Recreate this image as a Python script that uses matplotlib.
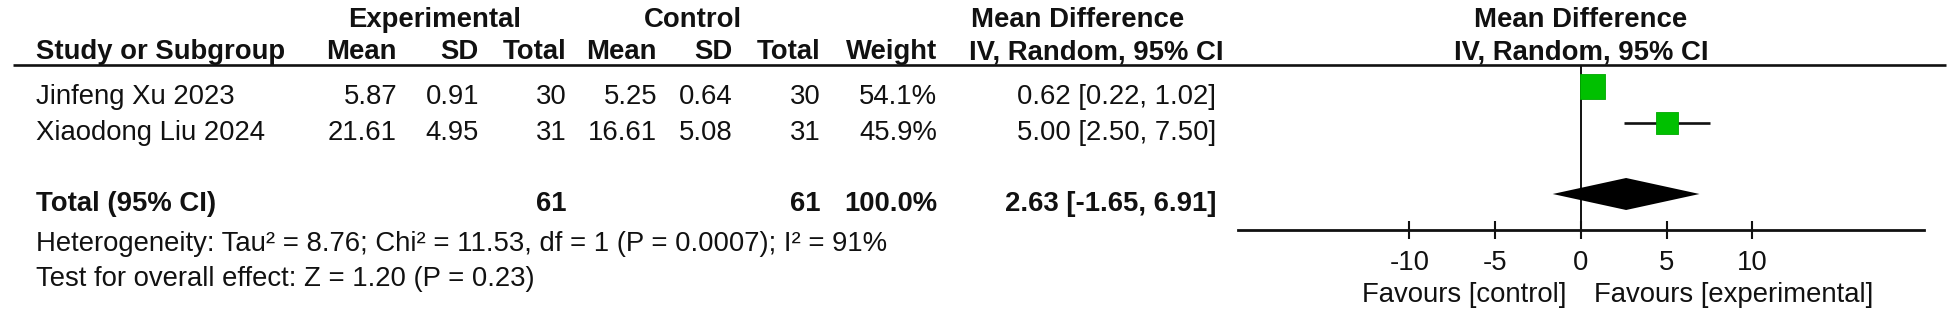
import matplotlib
matplotlib.use("Agg")
import matplotlib.pyplot as plt

# ---------------- data ----------------
studies = ["Jinfeng Xu 2023", "Xiaodong Liu 2024"]
exp_mean = [5.87, 21.61]
exp_sd = [0.91, 4.95]
exp_n = [30, 31]
ctl_mean = [5.25, 16.61]
ctl_sd = [0.64, 5.08]
ctl_n = [30, 31]
weights = [54.1, 45.9]
md = [0.62, 5.00]
ci_lo = [0.22, 2.50]
ci_hi = [1.02, 7.50]

total_label = "Total (95% CI)"
total_exp_n = 61
total_ctl_n = 61
total_weight = 100.0
pooled_md = 2.63
pooled_lo = -1.65
pooled_hi = 6.91

heterogeneity = "Heterogeneity: Tau\u00b2 = 8.76; Chi\u00b2 = 11.53, df = 1 (P = 0.0007); I\u00b2 = 91%"
overall = "Test for overall effect: Z = 1.20 (P = 0.23)"

xticks = [-10, -5, 0, 5, 10]
xlim = (-20, 20)
favours_left = "Favours [control]"
favours_right = "Favours [experimental]"

# ---------------- figure ----------------
W, H, DPI = 1949, 319, 100
plt.rcParams['font.family'] = ['Liberation Sans', 'DejaVu Sans']
FS = 19.8
TXT = '#111111'

fig = plt.figure(figsize=(W / DPI, H / DPI), dpi=DPI)
tab = fig.add_axes([0, 0, 1, 1])
tab.set_xlim(0, W)
tab.set_ylim(H, 0)
tab.axis('off')

# column right edges (pixels)
col_exp_mean, col_exp_sd, col_exp_n = 397, 479, 567
col_ctl_mean, col_ctl_sd, col_ctl_n = 657, 733, 821
col_weight, col_ci = 937, 1216
left_x = 36

# baselines
y_grp, y_hdr = 27, 59
row_base = [104, 140]
y_total, y_het, y_test = 211, 251, 286


def t(x, y, s, ha='right', bold=False):
    tab.text(x, y, s, ha=ha, va='baseline', fontsize=FS, color=TXT,
             fontweight='bold' if bold else 'normal')


# group headers
t(435, y_grp, "Experimental", ha='center', bold=True)
t(693, y_grp, "Control", ha='center', bold=True)
t(1078, y_grp, "Mean Difference", ha='center', bold=True)
t(1581, y_grp, "Mean Difference", ha='center', bold=True)

# column headers
t(left_x, y_hdr, "Study or Subgroup", ha='left', bold=True)
for x, s in [(col_exp_mean, "Mean"), (col_exp_sd, "SD"), (col_exp_n, "Total"),
             (col_ctl_mean, "Mean"), (col_ctl_sd, "SD"), (col_ctl_n, "Total"),
             (col_weight, "Weight")]:
    t(x, y_hdr, s, bold=True)
t(1096, y_hdr, "IV, Random, 95% CI", ha='center', bold=True)
t(1581, y_hdr, "IV, Random, 95% CI", ha='center', bold=True)

# header rule
tab.plot([13, 1946], [65, 65], color=TXT, lw=1.9, solid_capstyle='butt')

# study rows
for i, name in enumerate(studies):
    yb = row_base[i]
    t(left_x, yb, name, ha='left')
    t(col_exp_mean, yb, f"{exp_mean[i]:.2f}")
    t(col_exp_sd, yb, f"{exp_sd[i]:.2f}")
    t(col_exp_n, yb, f"{exp_n[i]}")
    t(col_ctl_mean, yb, f"{ctl_mean[i]:.2f}")
    t(col_ctl_sd, yb, f"{ctl_sd[i]:.2f}")
    t(col_ctl_n, yb, f"{ctl_n[i]}")
    t(col_weight, yb, f"{weights[i]:.1f}%")
    t(col_ci, yb, f"{md[i]:.2f} [{ci_lo[i]:.2f}, {ci_hi[i]:.2f}]")

# total row
t(left_x, y_total, total_label, ha='left', bold=True)
t(col_exp_n, y_total, f"{total_exp_n}", bold=True)
t(col_ctl_n, y_total, f"{total_ctl_n}", bold=True)
t(col_weight, y_total, f"{total_weight:.1f}%", bold=True)
t(col_ci, y_total, f"{pooled_md:.2f} [{pooled_lo:.2f}, {pooled_hi:.2f}]", bold=True)

t(left_x, y_het, heterogeneity, ha='left')
t(left_x, y_test, overall, ha='left')

# ---------------- forest panel ----------------
px_left, px_right = 1238, 1924
px_top, px_axis = 65, 230
ax = fig.add_axes([px_left / W, (H - px_axis) / H,
                   (px_right - px_left) / W, (px_axis - px_top) / H])
ax.set_xlim(*xlim)
ax.set_ylim(px_axis, px_top)
ax.patch.set_alpha(0)
for sp in ['top', 'left', 'right']:
    ax.spines[sp].set_visible(False)
ax.spines['bottom'].set_linewidth(2.0)
ax.spines['bottom'].set_color(TXT)
ax.set_yticks([])
ax.set_xticks(xticks)
ax.set_xticklabels([str(v) for v in xticks])
ax.tick_params(axis='x', direction='inout', length=13.5, width=1.5,
               color=TXT, labelsize=FS, labelcolor=TXT, pad=7.5)

ax.axvline(0, color=TXT, lw=1.4, zorder=1)

# squares / CIs (square side proportional to weight)
square_y = [86, 123]
side_max_px = 25
for i in range(len(studies)):
    ax.plot([ci_lo[i], ci_hi[i]], [square_y[i], square_y[i]], color=TXT,
            lw=1.9, zorder=2, solid_capstyle='butt')
    side_px = side_max_px * weights[i] / max(weights)
    side_pt = side_px * 72 / DPI
    ax.scatter([md[i]], [square_y[i]], marker='s', s=side_pt ** 2,
               facecolor='#00C000', edgecolor='#00A800', linewidths=0.6,
               zorder=3)

# diamond
dy, dh = 194, 16
ax.fill([pooled_lo, pooled_md, pooled_hi, pooled_md],
        [dy, dy - dh, dy, dy + dh], color='black', zorder=3, lw=0)

# favours labels
t(1567, 302, favours_left, ha='right')
t(1594, 302, favours_right, ha='left')

fig.savefig("out.png", dpi=DPI)
